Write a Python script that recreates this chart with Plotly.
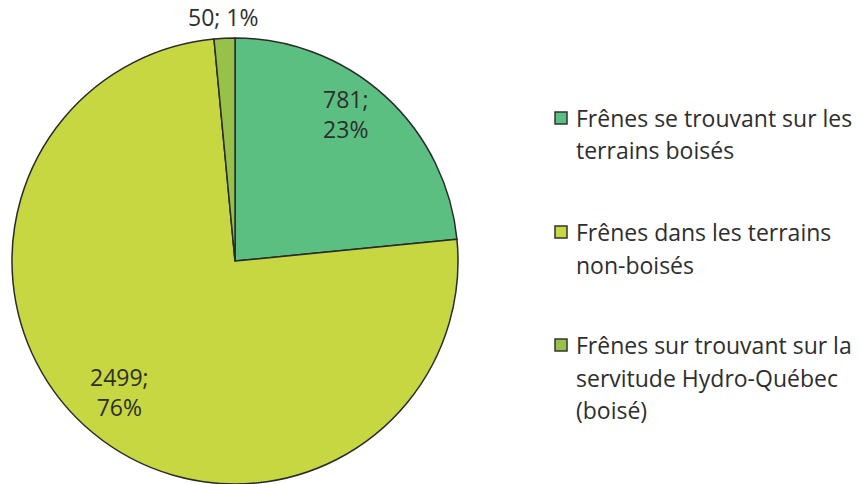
import math
import plotly.graph_objects as go

# ---- data ----
categories = [
    "Frênes se trouvant sur les terrains boisés",
    "Frênes dans les terrains non-boisés",
    "Frênes sur trouvant sur la servitude Hydro-Québec (boisé)",
]
legend_lines = [
    ["Frênes se trouvant sur les", "terrains boisés"],
    ["Frênes dans les terrains", "non-boisés"],
    ["Frênes sur trouvant sur la", "servitude Hydro-Québec", "(boisé)"],
]
values = [781, 2499, 50]
pct_labels = ["23%", "76%", "1%"]

# ---- style ----
colors = ["#5cbf82", "#c6d742", "#98c14a"]
font_family = "'Open Sans', sans-serif"
text_color = "#2e2e2e"
W, H = 860, 484
cx_px, cy_px, r_px = 235, 262, 223
label_r = [0.83, 0.78, 1.10]
label_dangle = [-5.5, 2.0, 0.0]
label_fmt = ["{v};<br>{p}", "{v};<br>{p}", "{v}; {p}"]
fsize = 23

fig = go.Figure()
fig.add_trace(go.Pie(
    labels=categories,
    values=values,
    sort=False,
    direction="clockwise",
    rotation=0,
    marker=dict(colors=colors, line=dict(color="#2a2a2a", width=1.5)),
    textinfo="none",
    hoverinfo="label+value+percent",
    showlegend=False,
    domain=dict(x=[(cx_px - r_px) / W, (cx_px + r_px) / W],
                y=[0, 2 * r_px / H]),
))

annotations = []
total = sum(values)
start = 0.0
for i, v in enumerate(values):
    span = 360.0 * v / total
    mid = math.radians(start + span / 2 + label_dangle[i])
    start += span
    x = cx_px + math.sin(mid) * r_px * label_r[i]
    y = cy_px - math.cos(mid) * r_px * label_r[i]
    annotations.append(dict(
        x=x / W, y=1 - y / H, xref="paper", yref="paper",
        xanchor="center", yanchor="middle",
        text=label_fmt[i].format(v=v, p=pct_labels[i]),
        showarrow=False, align="center",
        font=dict(family=font_family, size=fsize, color=text_color),
    ))

# manual legend
shapes = []
item_top = [118, 232, 345]
line_h = 32.5
for i, lines in enumerate(legend_lines):
    yc = item_top[i]
    shapes.append(dict(
        type="rect", xref="paper", yref="paper",
        x0=555 / W, x1=567 / W, y0=1 - (yc + 6) / H, y1=1 - (yc - 6) / H,
        fillcolor=colors[i], line=dict(color="#333333", width=1.5),
    ))
    for j, t in enumerate(lines):
        annotations.append(dict(
            x=574 / W, y=1 - (yc + j * line_h) / H, xref="paper", yref="paper",
            xanchor="left", yanchor="middle", text=t, showarrow=False,
            font=dict(family=font_family, size=fsize, color=text_color),
        ))

fig.update_layout(
    width=W, height=H,
    margin=dict(l=0, r=0, t=0, b=0),
    paper_bgcolor="white", plot_bgcolor="white",
    annotations=annotations, shapes=shapes,
    showlegend=False,
)
fig.write_html("out.html", config={"displayModeBar": False},
               post_script="document.body.style.margin='0';")
